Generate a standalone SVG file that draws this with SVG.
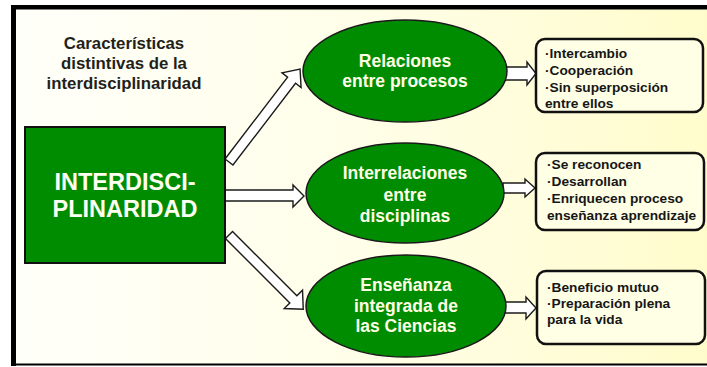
<svg xmlns="http://www.w3.org/2000/svg" width="707" height="367" viewBox="0 0 707 367">
<defs>
<linearGradient id="bg" x1="0" y1="0" x2="1" y2="0">
<stop offset="0" stop-color="#FFFFFA"/>
<stop offset="0.5" stop-color="#FFFEE8"/>
<stop offset="1" stop-color="#FFFCCC"/>
</linearGradient>
<style>
.title{font-family:"Liberation Sans",Arial,sans-serif;font-weight:bold;font-size:16.8px;fill:#231f1a;text-anchor:middle}
.main{font-family:"Liberation Sans",Arial,sans-serif;font-weight:bold;font-size:23.5px;fill:#FFFFF2;text-anchor:middle}
.ell{fill:#008C00;stroke:#1a1a1a;stroke-width:1.5}
.etxt{font-family:"Liberation Sans",Arial,sans-serif;font-weight:bold;font-size:17.5px;fill:#FFFFE6;text-anchor:middle}
.box{fill:#FFFFE6;stroke:#111;stroke-width:2.5}
.btxt{font-family:"Liberation Sans",Arial,sans-serif;font-weight:bold;font-size:13.7px;fill:#161616}
.arr{fill:#FFFFFF;stroke:#1a1a1a;stroke-width:1.4;stroke-linejoin:miter}
</style>
</defs>
<rect x="0" y="0" width="707" height="367" fill="#FFFFFF"/>
<rect x="11" y="5" width="696" height="360" fill="url(#bg)"/>
<rect x="11" y="5" width="5" height="361" fill="#000"/>
<rect x="11" y="5" width="696" height="4.5" fill="#000"/>
<rect x="11" y="363.5" width="696" height="2" fill="#000"/>

<g id="title">
<text class="title" x="124" y="49">Características</text>
<text class="title" x="124" y="69">distintivas  de la</text>
<text class="title" x="124" y="89">interdisciplinaridad</text>
</g>

<g id="connectors">
<path class="arr" d="M0,-5 H103 V-12 L117,0 L103,12 V5 H0 Z" transform="translate(229,162) rotate(-52.6)"/>
<path class="arr" d="M0,-5 H91 V-13 L105,0 L91,13 V5 H0 Z" transform="translate(229,235) rotate(45)"/>
<path class="arr" d="M225,190 H293 V185 L304,196 L293,207 V201 H225 Z"/>
<path class="arr" d="M505,67 H527 V62 L536,73.5 L527,85 V80 H505 Z"/>
<path class="arr" d="M503,183 H525 V179 L535,188 L525,197 V193 H503 Z"/>
<path class="arr" d="M505,302 H526 V297 L536,308 L526,319 V313 H505 Z"/>
</g>

<g id="main">
<rect x="25" y="127" width="200" height="136" fill="#008C00" stroke="#111" stroke-width="2"/>
<text class="main" x="125" y="190">INTERDISCI-</text>
<text class="main" x="125" y="217">PLINARIDAD</text>
</g>

<g id="n1">
<ellipse class="ell" cx="405" cy="71" rx="102" ry="51"/>
<text class="etxt" x="405" y="67">Relaciones</text>
<text class="etxt" x="405" y="87">entre procesos</text>
</g>
<g id="n2">
<ellipse class="ell" cx="405" cy="193" rx="99" ry="50"/>
<text class="etxt" x="405" y="179">Interrelaciones</text>
<text class="etxt" x="405" y="201">entre</text>
<text class="etxt" x="405" y="222">disciplinas</text>
</g>
<g id="n3">
<ellipse class="ell" cx="406" cy="306" rx="100" ry="51"/>
<text class="etxt" x="406" y="291">Enseñanza</text>
<text class="etxt" x="406" y="312">integrada de</text>
<text class="etxt" x="406" y="332">las Ciencias</text>
</g>

<g id="b1">
<rect class="box" x="536" y="39" width="167" height="73" rx="9"/>
<text class="btxt" x="545" y="58">·Intercambio</text>
<text class="btxt" x="545" y="75">·Cooperación</text>
<text class="btxt" x="545" y="92">·Sin superposición</text>
<text class="btxt" x="545" y="108">entre ellos</text>
</g>
<g id="b2">
<rect class="box" x="536" y="153" width="168" height="77" rx="9"/>
<text class="btxt" x="547" y="169">·Se reconocen</text>
<text class="btxt" x="547" y="186">·Desarrollan</text>
<text class="btxt" x="547" y="203">·Enriquecen proceso</text>
<text class="btxt" x="547" y="220">enseñanza aprendizaje</text>
</g>
<g id="b3">
<rect class="box" x="537" y="271" width="168" height="73" rx="9"/>
<text class="btxt" x="547" y="292">·Beneficio mutuo</text>
<text class="btxt" x="547" y="308">·Preparación plena</text>
<text class="btxt" x="547" y="324">para la vida</text>
</g>
</svg>
